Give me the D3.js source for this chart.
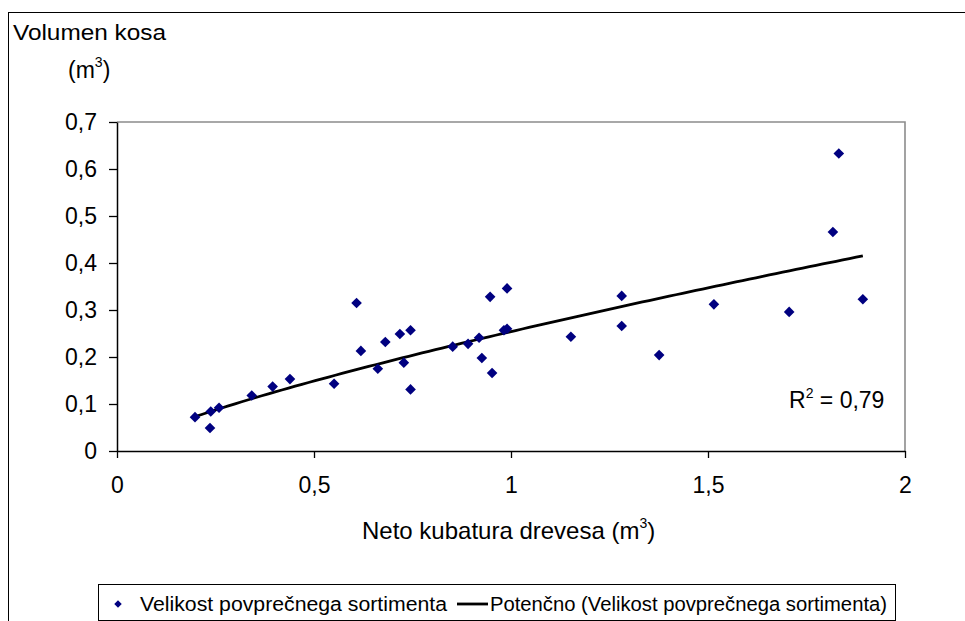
<!DOCTYPE html>
<html>
<head>
<meta charset="utf-8">
<script src="https://cdn.jsdelivr.net/npm/d3@7"></script>
<style>
  html, body { margin: 0; padding: 0; background: #fff; }
  svg { display: block; font-family: "Liberation Sans", Arial, sans-serif; }
</style>
</head>
<body>
<svg id="chart" width="965" height="621"></svg>
<script>
// Neto kubatura drevesa (m3) per observation
const netoKubatura = [
  0.198, 0.238, 0.236, 0.259, 0.342, 0.395, 0.439, 0.551, 0.608, 0.619,
  0.662, 0.681, 0.718, 0.728, 0.745, 0.745, 0.852, 0.891, 0.919, 0.926,
  0.947, 0.952, 0.982, 0.990, 0.990, 1.152, 1.281, 1.281, 1.376, 1.515,
  1.706, 1.817, 1.832, 1.893
];
// Velikost povprečnega sortimenta (m3)
const volumenKosa = [
  0.072, 0.084, 0.049, 0.092, 0.118, 0.137, 0.153, 0.143, 0.315, 0.213,
  0.175, 0.232, 0.249, 0.188, 0.257, 0.131, 0.222, 0.228, 0.241, 0.198,
  0.328, 0.166, 0.257, 0.346, 0.260, 0.243, 0.330, 0.266, 0.204, 0.312,
  0.296, 0.466, 0.633, 0.323
];
// power trendline coefficients: y = trendA * x^trendB
const trendA = 0.254;
const trendB = 0.77;
const xTickValues = [0, 0.5, 1, 1.5, 2];
const xTickLabels = ["0", "0,5", "1", "1,5", "2"];
const yTickValues = [0, 0.1, 0.2, 0.3, 0.4, 0.5, 0.6, 0.7];
const yTickLabels = ["0", "0,1", "0,2", "0,3", "0,4", "0,5", "0,6", "0,7"];
const seriesName = "Velikost povprečnega sortimenta";
const trendName = "Potenčno (Velikost povprečnega sortimenta)";
const rSquaredLabel = "0,79";

const svg = d3.select("#chart");
const plot = { left: 117, right: 905, top: 122, bottom: 451 };

const x = d3.scaleLinear().domain([0, 2]).range([plot.left, plot.right]);
const y = d3.scaleLinear().domain([0, 0.7]).range([plot.bottom, plot.top]);

// outer chart frame (runs past the right and bottom edges)
svg.append("rect")
  .attr("x", 8.5).attr("y", 12.5)
  .attr("width", 1000).attr("height", 700)
  .attr("fill", "none").attr("stroke", "#000").attr("stroke-width", 1);

// plot area border: grey top and right
svg.append("path")
  .attr("d", `M${plot.left},${plot.top}H${plot.right}V${plot.bottom}`)
  .attr("fill", "none").attr("stroke", "#8c8c8c").attr("stroke-width", 1.6);

// axes
const yAxis = d3.axisLeft(y)
  .tickValues(yTickValues)
  .tickFormat((d, i) => yTickLabels[i])
  .tickSize(8).tickSizeOuter(0).tickPadding(12);
const xAxis = d3.axisBottom(x)
  .tickValues(xTickValues)
  .tickFormat((d, i) => xTickLabels[i])
  .tickSize(7).tickSizeOuter(0).tickPadding(19);

const gy = svg.append("g").attr("transform", `translate(${plot.left},0)`).call(yAxis);
const gx = svg.append("g").attr("transform", `translate(0,${plot.bottom})`).call(xAxis);
[gx, gy].forEach(g => {
  g.select(".domain").attr("stroke", "#000").attr("stroke-width", 1.5);
  g.selectAll(".tick line").attr("stroke", "#000").attr("stroke-width", 1.3);
  g.selectAll(".tick text")
    .attr("fill", "#000")
    .attr("font-family", "'Liberation Sans', Arial, sans-serif")
    .attr("font-size", 23);
});

// power trendline over the range of the observations
const [xmin, xmax] = d3.extent(netoKubatura);
const trendPts = d3.range(0, 101).map(i => {
  const xv = xmin + (xmax - xmin) * i / 100;
  return [xv, trendA * Math.pow(xv, trendB)];
});
svg.append("path")
  .datum(trendPts)
  .attr("d", d3.line().x(d => x(d[0])).y(d => y(d[1])))
  .attr("fill", "none").attr("stroke", "#000").attr("stroke-width", 2.8);

// data markers (diamonds)
const diamond = d3.symbol().type(d3.symbolDiamond2).size(72);
svg.append("g").selectAll("path")
  .data(netoKubatura.map((v, i) => [v, volumenKosa[i]]))
  .join("path")
  .attr("transform", d => `translate(${x(d[0])},${y(d[1])})`)
  .attr("d", diamond)
  .attr("fill", "#000080");

// R² annotation
const r2 = svg.append("text")
  .attr("x", 789).attr("y", 408)
  .attr("font-size", 23).attr("fill", "#000");
r2.append("tspan").text("R");
r2.append("tspan").attr("dy", -10).attr("font-size", 14).text("2");
r2.append("tspan").attr("dy", 10).text(" = " + rSquaredLabel);

// y axis title
svg.append("text").attr("x", 13).attr("y", 40)
  .attr("font-size", 22).attr("textLength", 153).attr("lengthAdjust", "spacingAndGlyphs")
  .text("Volumen kosa");
const yUnit = svg.append("text").attr("x", 68).attr("y", 78).attr("font-size", 23);
yUnit.append("tspan").text("(m");
yUnit.append("tspan").attr("dy", -11).attr("font-size", 14).text("3");
yUnit.append("tspan").attr("dy", 11).text(")");

// x axis title
const xTitle = svg.append("text").attr("x", 362).attr("y", 539).attr("font-size", 24);
xTitle.append("tspan").text("Neto kubatura drevesa (m");
xTitle.append("tspan").attr("dy", -11).attr("font-size", 14).text("3");
xTitle.append("tspan").attr("dy", 11).text(")");

// legend
const lg = svg.append("g");
lg.append("rect")
  .attr("x", 98.5).attr("y", 584.5).attr("width", 797).attr("height", 36)
  .attr("fill", "#fff").attr("stroke", "#000").attr("stroke-width", 1);
lg.append("path")
  .attr("transform", "translate(118,604)")
  .attr("d", d3.symbol().type(d3.symbolDiamond2).size(36))
  .attr("fill", "#000080");
lg.append("text").attr("x", 140).attr("y", 611).attr("font-size", 20)
  .attr("textLength", 307).attr("lengthAdjust", "spacingAndGlyphs")
  .text(seriesName);
lg.append("line").attr("x1", 457).attr("x2", 488).attr("y1", 604).attr("y2", 604)
  .attr("stroke", "#000").attr("stroke-width", 2.8);
lg.append("text").attr("x", 490).attr("y", 611).attr("font-size", 20)
  .attr("textLength", 397).attr("lengthAdjust", "spacingAndGlyphs")
  .text(trendName);
</script>
</body>
</html>
